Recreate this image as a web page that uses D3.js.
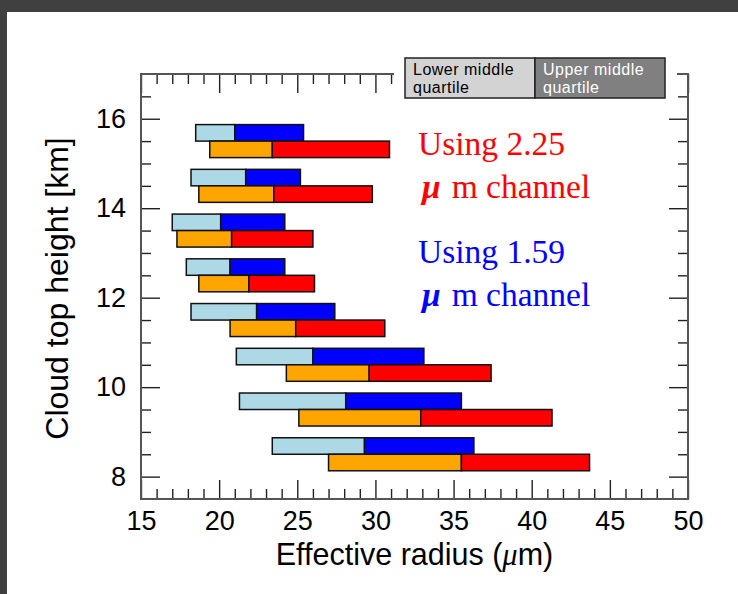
<!DOCTYPE html>
<html>
<head>
<meta charset="utf-8">
<script src="https://cdn.jsdelivr.net/npm/d3@7"></script>
<style>
  html, body { margin: 0; padding: 0; background: #fff; }
  svg { display: block; }
</style>
</head>
<body>
<script>
// Cloud top height levels (km), one pair of bars per level
const heights = [15.5, 14.5, 13.5, 12.5, 11.5, 10.5, 9.5, 8.5];

// 1.59 um channel: lower quartile, median, upper quartile of effective radius (um)
const q1_159  = [18.5, 18.2, 17.0, 17.9, 18.2, 21.1, 21.3, 23.4];
const med_159 = [21.0, 21.7, 20.1, 20.7, 22.4, 26.0, 28.1, 29.3];
const q3_159  = [25.4, 25.2, 24.2, 24.2, 27.4, 33.1, 35.5, 36.3];

// 2.25 um channel: lower quartile, median, upper quartile of effective radius (um)
const q1_225  = [19.4, 18.7, 17.3, 18.7, 20.7, 24.3, 25.1, 27.0];
const med_225 = [23.4, 23.5, 20.8, 21.9, 24.9, 29.6, 32.9, 35.5];
const q3_225  = [30.9, 29.8, 26.0, 26.1, 30.6, 37.4, 41.3, 43.7];

// Axis ticks
const xMajor = [15, 20, 25, 30, 35, 40, 45, 50];
const yMajor = [8, 10, 12, 14, 16];

const W = 738, H = 594;
const plotL = 141, plotR = 688, plotT = 74, plotB = 499;
const sans = "'Liberation Sans', Arial, Helvetica, sans-serif";
const serif = "'Liberation Serif', 'Times New Roman', serif";

const svg = d3.select("body").append("svg")
  .attr("width", W).attr("height", H);

// page background with dark window edges
svg.append("rect").attr("width", W).attr("height", H).attr("fill", "#fff");
svg.append("rect").attr("width", W).attr("height", 12).attr("fill", "#404040");
svg.append("rect").attr("width", 7).attr("height", H).attr("fill", "#404040");

const x = d3.scaleLinear().domain([15, 50]).range([plotL, plotR]);
const y = d3.scaleLinear().domain([7.5, 17]).range([plotB, plotT]);

const xMinor = d3.range(16, 50, 1).filter(v => v % 5 !== 0);
const yMinor = d3.range(8.5, 17, 0.5).filter(v => !yMajor.includes(v) && v < 17);

const tickColor = "#222";
function styleTicks(g) {
  g.select(".domain").remove();
  g.selectAll("line").attr("stroke", tickColor).attr("stroke-width", 1.4);
  g.selectAll("text").remove();
}

// inward ticks on all four sides
const ticks = svg.append("g");
ticks.append("g").attr("transform", `translate(0,${plotB})`)
  .call(d3.axisTop(x).tickValues(xMajor).tickSize(19)).call(styleTicks);
ticks.append("g").attr("transform", `translate(0,${plotB})`)
  .call(d3.axisTop(x).tickValues(xMinor).tickSize(10)).call(styleTicks);
ticks.append("g").attr("transform", `translate(0,${plotT})`)
  .call(d3.axisBottom(x).tickValues(xMajor).tickSize(19)).call(styleTicks);
ticks.append("g").attr("transform", `translate(0,${plotT})`)
  .call(d3.axisBottom(x).tickValues(xMinor).tickSize(10)).call(styleTicks);
ticks.append("g").attr("transform", `translate(${plotL},0)`)
  .call(d3.axisRight(y).tickValues(yMajor).tickSize(19)).call(styleTicks);
ticks.append("g").attr("transform", `translate(${plotL},0)`)
  .call(d3.axisRight(y).tickValues(yMinor).tickSize(10)).call(styleTicks);
ticks.append("g").attr("transform", `translate(${plotR},0)`)
  .call(d3.axisLeft(y).tickValues(yMajor).tickSize(19)).call(styleTicks);
ticks.append("g").attr("transform", `translate(${plotR},0)`)
  .call(d3.axisLeft(y).tickValues(yMinor).tickSize(10)).call(styleTicks);

// plot frame
svg.append("rect")
  .attr("x", plotL).attr("y", plotT)
  .attr("width", plotR - plotL).attr("height", plotB - plotT)
  .attr("fill", "none").attr("stroke", "#555").attr("stroke-width", 2);

// tick labels
const xLab = svg.append("g").attr("transform", `translate(0,${plotB})`)
  .call(d3.axisBottom(x).tickValues(xMajor).tickSize(0).tickPadding(12));
xLab.select(".domain").remove();
xLab.selectAll("text").attr("font-family", sans).attr("font-size", 27).attr("fill", "#000");

const yLab = svg.append("g").attr("transform", `translate(${plotL},0)`)
  .call(d3.axisLeft(y).tickValues(yMajor).tickSize(0).tickPadding(15));
yLab.select(".domain").remove();
yLab.selectAll("text").attr("font-family", sans).attr("font-size", 27).attr("fill", "#000");

// axis titles
const xTitle = svg.append("text")
  .attr("x", (plotL + plotR) / 2).attr("y", 564.5)
  .attr("text-anchor", "middle")
  .attr("font-family", sans).attr("font-size", 30.5).attr("fill", "#000");
xTitle.append("tspan").text("Effective radius (");
xTitle.append("tspan").attr("font-family", serif).attr("font-style", "italic").text("μ");
xTitle.append("tspan").text("m)");

svg.append("text")
  .attr("transform", `translate(68,${(plotT + plotB) / 2 + 2}) rotate(-90)`)
  .attr("text-anchor", "middle")
  .attr("font-family", sans).attr("font-size", 32).attr("fill", "#000")
  .text("Cloud top height [km]");

// quartile bars: 1.59 um row above each level, 2.25 um row below
const rowH = 16.5;
const rows = heights.map((h, i) => ({
  h,
  a: [q1_159[i], med_159[i], q3_159[i]],
  b: [q1_225[i], med_225[i], q3_225[i]]
}));

const bars = svg.append("g").attr("stroke", "#111").attr("stroke-width", 1.5);
function drawRow(sel, key, offset, cLow, cHigh) {
  sel.append("rect")
    .attr("x", d => x(d[key][0]))
    .attr("y", d => y(d.h) + offset)
    .attr("width", d => x(d[key][1]) - x(d[key][0]))
    .attr("height", rowH)
    .attr("fill", cLow);
  sel.append("rect")
    .attr("x", d => x(d[key][1]))
    .attr("y", d => y(d.h) + offset)
    .attr("width", d => x(d[key][2]) - x(d[key][1]))
    .attr("height", rowH)
    .attr("fill", cHigh);
}
const grp = bars.selectAll("g").data(rows).join("g");
drawRow(grp, "a", -rowH, "#add8e6", "#0000ff");
drawRow(grp, "b", 0, "#ffa500", "#ff0000");

// channel annotations
function note(yBase, label, color) {
  svg.append("text")
    .attr("x", 418).attr("y", yBase)
    .attr("font-family", serif).attr("font-size", 33.5).attr("fill", color)
    .text(label);
  const t = svg.append("text")
    .attr("x", 422).attr("y", yBase + 43)
    .attr("font-family", serif).attr("font-size", 33.5).attr("fill", color);
  t.append("tspan").attr("font-style", "italic").attr("font-weight", "bold").text("μ");
  t.append("tspan").attr("dx", 11).text("m channel");
}
note(155, "Using 2.25", "#ff0000");
note(263, "Using 1.59", "#0000ff");

// legend, on a white backing over the top frame
const legend = svg.append("g");
legend.append("rect")
  .attr("x", 394).attr("y", 50).attr("width", 283).attr("height", 51)
  .attr("fill", "#fff");
const legendItems = [
  { lines: ["Lower middle", "quartile"], fill: "#d3d3d3", text: "#000" },
  { lines: ["Upper middle", "quartile"], fill: "#808080", text: "#fff" }
];
const lx = d3.scaleBand().domain([0, 1]).range([405, 665]);
legendItems.forEach((it, i) => {
  legend.append("rect")
    .attr("x", lx(i)).attr("y", 58)
    .attr("width", lx.bandwidth()).attr("height", 40)
    .attr("fill", it.fill).attr("stroke", "#222").attr("stroke-width", 1.5);
  it.lines.forEach((s, j) => {
    legend.append("text")
      .attr("x", lx(i) + 8).attr("y", 75 + j * 18)
      .attr("font-family", sans).attr("font-size", 16)
      .attr("letter-spacing", 0.5).attr("fill", it.text)
      .text(s);
  });
});
</script>
</body>
</html>
